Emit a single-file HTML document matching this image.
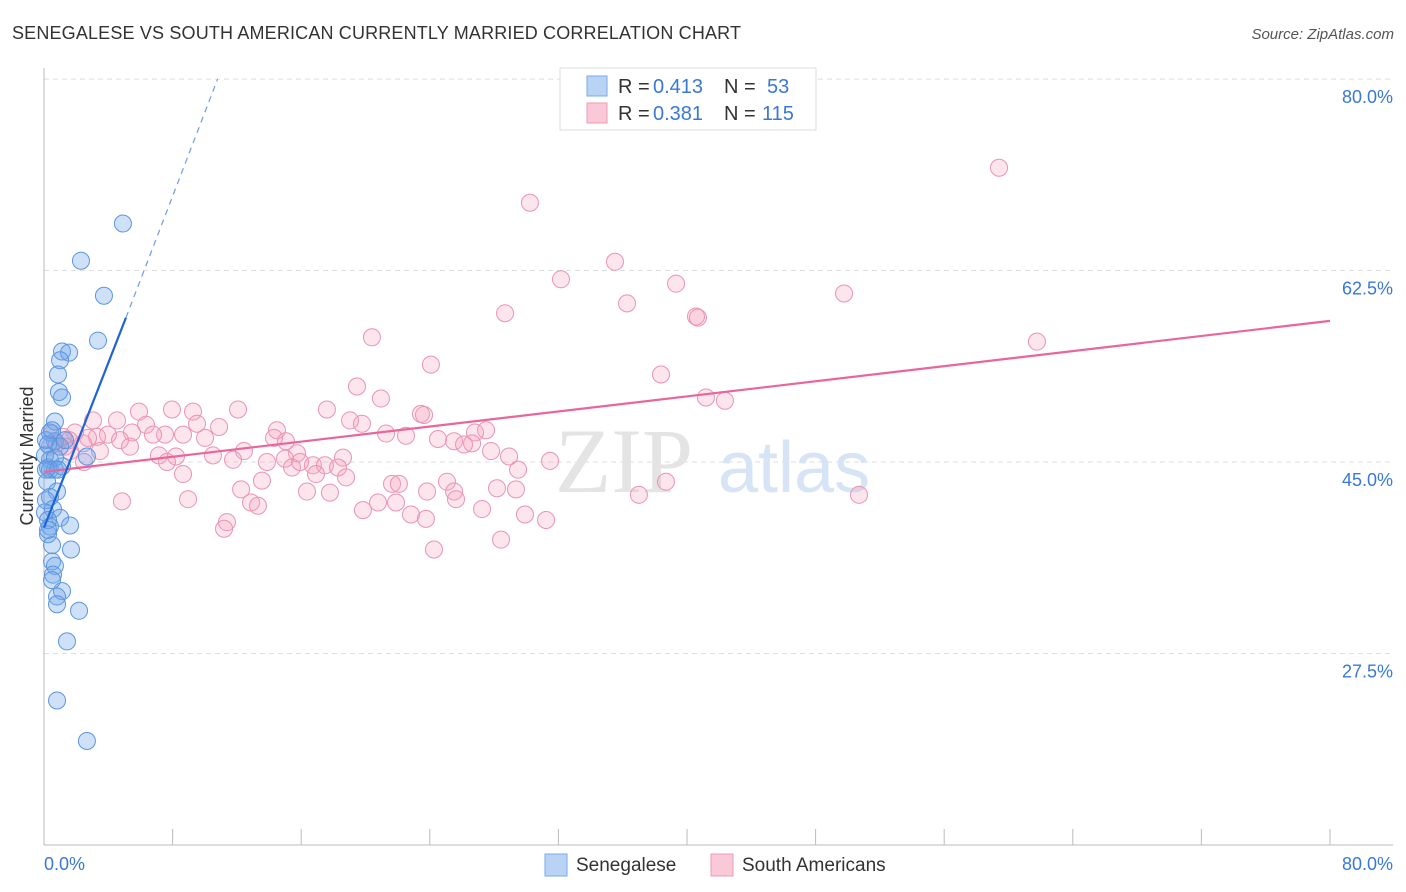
<!DOCTYPE html>
<html><head><meta charset="utf-8"><style>
body{margin:0;background:#fff;font-family:"Liberation Sans",sans-serif;}
#wrap{position:relative;width:1406px;height:892px;overflow:hidden;}
</style></head><body>
<div id="wrap">
<svg id="svg" width="1406" height="892" xmlns="http://www.w3.org/2000/svg">
<text x="12" y="39" font-size="18" fill="#333" textLength="729">SENEGALESE VS SOUTH AMERICAN CURRENTLY MARRIED CORRELATION CHART</text>
<text x="1394" y="39" font-size="15" fill="#555" font-style="italic" text-anchor="end">Source: ZipAtlas.com</text>
<text transform="translate(33,456) rotate(-90)" font-size="18" fill="#333" text-anchor="middle">Currently Married</text>
<g id="grid"></g>
<text x="555" y="492" font-size="92" fill="#e4e4e4" font-family="Liberation Serif">ZIP</text>
<text x="718" y="492" font-size="72" fill="#d6e4f5">atlas</text>
<g id="marks"></g>
<g id="legend">
<rect x="560" y="68" width="256" height="62" fill="#fff" stroke="#ddd"/>
<rect x="587" y="76" width="20" height="20" fill="#b9d3f5" stroke="#7aa9e8"/>
<rect x="587" y="103" width="20" height="20" fill="#f9c9d8" stroke="#ef9ab7"/>
<g font-size="20">
<text x="618" y="93" fill="#333">R =</text><text x="653" y="93" fill="#3a78d6">0.413</text>
<text x="724" y="93" fill="#333">N =</text><text x="767" y="93" fill="#3a78d6">53</text></g>
<g font-size="20">
<text x="618" y="120" fill="#333">R =</text><text x="653" y="120" fill="#3a78d6">0.381</text>
<text x="724" y="120" fill="#333">N =</text><text x="762" y="120" fill="#3a78d6">115</text></g>
</g>
<rect x="545" y="854" width="22" height="22" fill="#b9d3f5" stroke="#7aa9e8"/>
<text x="576" y="871" font-size="19" fill="#333">Senegalese</text>
<rect x="711" y="854" width="22" height="22" fill="#f9c9d8" stroke="#ef9ab7"/>
<text x="742" y="871" font-size="19" fill="#333">South Americans</text>
</svg>
</div>
<script>
const yTicks=[80,62.5,45,27.5];
const yTickLabels=["80.0%","62.5%","45.0%","27.5%"];
const xTicks=[0,8,16,24,32,40,48,56,64,72,80];
const blueX=[4.91,2.30,3.73,3.36,1.12,1.56,1.00,0.87,0.93,1.12,0.68,0.37,0.68,2.67,0.37,0.25,0.68,1.12,0.19,0.81,0.37,0.56,0.06,1.00,1.62,0.37,0.25,0.50,1.68,0.50,0.68,0.56,1.12,0.81,0.81,2.18,1.43,0.81,2.67,0.12,0.25,0.06,0.50,0.12,0.25,0.68,0.37,0.12,1.00,1.31,0.25,0.50,0.87];
const blueY=[66.8,63.4,60.2,56.1,55.1,55.0,54.3,53.0,51.4,50.9,48.7,47.7,46.9,45.5,45.2,44.5,44.3,44.6,43.2,42.3,41.8,40.7,40.4,39.9,39.2,39.1,38.4,37.4,37.0,35.9,35.5,34.7,33.2,32.7,32.0,31.4,28.6,23.2,19.5,47.0,46.6,45.6,47.9,41.5,39.7,45.4,44.3,44.3,46.4,47.0,38.8,34.2,44.3];
const pinkX=[59.41,30.23,35.52,32.16,39.32,49.77,36.27,28.68,40.56,40.68,20.40,61.77,24.07,38.38,19.47,20.96,41.18,42.36,7.96,5.91,12.07,17.60,9.27,23.45,3.05,4.54,19.04,23.64,9.52,19.78,14.49,6.35,10.89,27.50,26.81,0.50,3.98,1.93,5.47,7.53,6.78,14.31,10.02,8.65,21.28,22.52,3.30,1.18,24.51,25.51,4.73,15.05,26.63,26.13,2.43,5.35,12.44,10.51,27.81,7.15,15.74,18.60,8.21,28.93,1.31,3.48,1.62,11.76,13.87,31.48,14.99,15.43,7.65,16.73,15.93,17.48,18.29,29.49,8.65,16.92,18.79,13.56,21.65,22.08,25.07,38.69,12.26,16.36,17.79,23.83,4.85,8.96,12.88,13.31,20.78,21.90,25.51,28.18,29.36,25.63,19.84,22.83,37.01,50.70,27.25,23.76,29.92,31.23,11.38,11.20,28.43,24.26,2.49,0.37,0.81,1.56,2.74];
const pinkY=[71.9,68.7,63.3,61.7,61.3,60.4,59.5,58.6,58.3,58.2,56.4,56.0,53.9,53.0,51.9,50.8,50.9,50.6,49.8,49.6,49.8,49.8,49.6,49.4,48.8,48.8,48.8,49.3,48.5,48.5,47.9,48.4,48.2,47.9,47.7,47.6,47.5,47.7,47.7,47.5,47.5,47.2,47.2,47.5,47.6,47.4,47.3,47.3,47.1,46.9,47.0,46.9,46.7,46.6,46.7,46.4,46.0,45.6,46.0,45.6,45.8,45.4,45.5,45.5,46.4,46.0,46.0,45.2,45.0,45.1,45.3,44.5,45.0,44.7,45.0,44.7,44.5,44.3,43.9,43.9,43.6,43.3,43.0,43.0,43.2,43.2,42.5,42.3,42.2,42.3,41.4,41.6,41.3,41.0,41.3,41.3,42.3,42.6,42.5,41.6,40.6,40.2,42.0,42.0,40.7,39.8,40.2,39.7,39.5,38.9,37.9,37.0,45.0,46.4,46.7,47.0,47.2];
const blueTrendX=[0,5.1];const blueTrendY=[39.0,58.2];
const blueDashX=[5.1,10.8];const blueDashY=[58.2,80.0];
const pinkTrendX=[0,80];const pinkTrendY=[44.1,57.9];

const X0=44,XS=16.075,Y45=462,YS=10.94;
const sx=v=>X0+v*XS;
const sy=v=>Y45-(v-45)*YS;
const NS="http://www.w3.org/2000/svg";
function mk(tag,attrs,parent){const e=document.createElementNS(NS,tag);for(const k in attrs)e.setAttribute(k,attrs[k]);parent.appendChild(e);return e;}
const grid=document.getElementById('grid'),marks=document.getElementById('marks');
yTicks.forEach((t,i)=>{
 const l=mk('line',{x1:44,x2:1393,y1:sy(t),y2:sy(t),stroke:'#ddd','stroke-dasharray':'5,4'},grid);
 
 
 const tx=mk('text',{x:1393,y:sy(t)+24,'font-size':18,fill:'#3a78d6','text-anchor':'end'},grid);
 tx.textContent=yTickLabels[i];
 
 
});
const ax=mk('line',{x1:44,x2:1393,y1:845,y2:845,stroke:'#bbb'},grid);


const ay=mk('line',{x1:44,x2:44,y1:68,y2:845,stroke:'#bbb'},grid);


xTicks.forEach(t=>{
 const l=mk('line',{x1:sx(t),x2:sx(t),y1:829,y2:845,stroke:'#bbb'},grid);
 
 
});
const xl0=mk('text',{x:44,y:870,'font-size':18,fill:'#3a78d6'},grid);xl0.textContent='0.0%';


const xl1=mk('text',{x:1393,y:870,'font-size':18,fill:'#3a78d6','text-anchor':'end'},grid);xl1.textContent='80.0%';


pinkX.forEach((x,i)=>{
 const c=mk('circle',{cx:sx(x),cy:sy(pinkY[i]),r:8.5,fill:'rgba(244,160,190,0.28)',stroke:'#eb93b2','stroke-width':1},marks);
 
 
});
blueX.forEach((x,i)=>{
 const c=mk('circle',{cx:sx(x),cy:sy(blueY[i]),r:8.5,fill:'rgba(110,165,235,0.33)',stroke:'#5b95e0','stroke-width':1},marks);
 
 
});
const pl=mk('line',{x1:sx(pinkTrendX[0]),y1:sy(pinkTrendY[0]),x2:sx(pinkTrendX[1]),y2:sy(pinkTrendY[1]),stroke:'#e8669a','stroke-width':2.2},marks);


const bl=mk('line',{x1:sx(blueTrendX[0]),y1:sy(blueTrendY[0]),x2:sx(blueTrendX[1]),y2:sy(blueTrendY[1]),stroke:'#1f62d8','stroke-width':2.2},marks);


const bd=mk('line',{x1:sx(blueDashX[0]),y1:sy(blueDashY[0]),x2:sx(blueDashX[1]),y2:sy(blueDashY[1]),stroke:'#6d9de0','stroke-width':1.2,'stroke-dasharray':'6,5'},marks);


</script>
</body></html>
